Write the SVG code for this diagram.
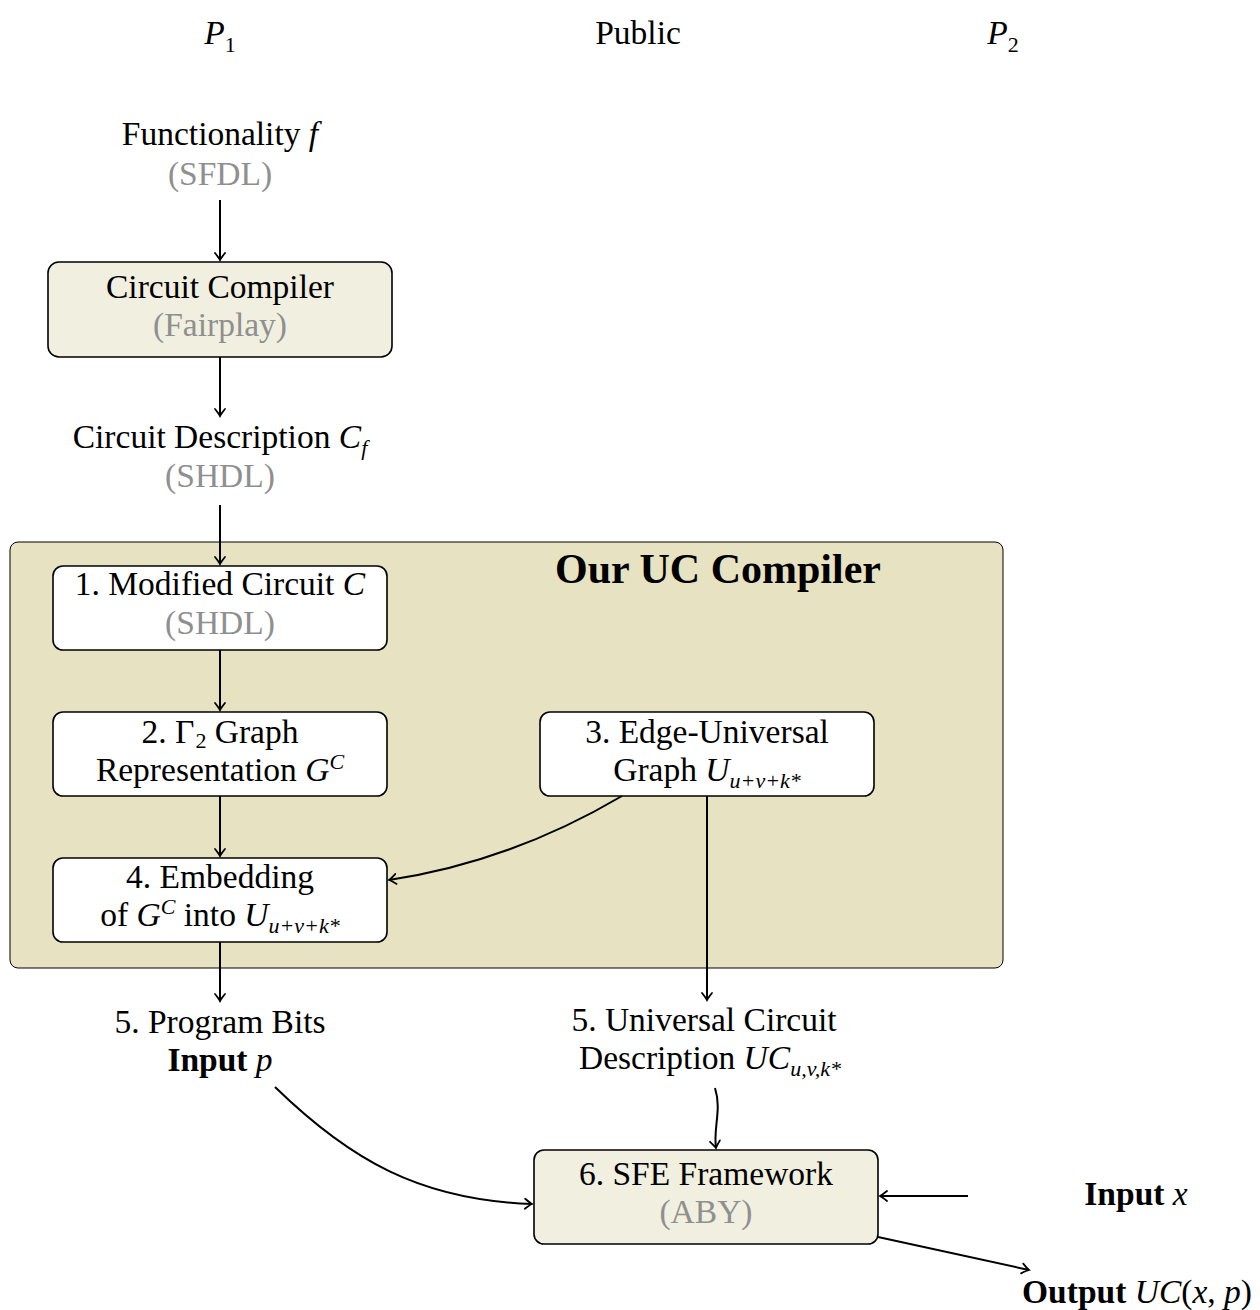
<svg xmlns="http://www.w3.org/2000/svg" width="1260" height="1310" viewBox="0 0 1260 1310">
  <style>
    text { font-family: "Liberation Serif", "DejaVu Serif", serif; font-size: 33.5px; fill: #000; }
    .c { text-anchor: middle; }
    .m { font-style: italic; }
    .b { font-weight: bold; }
    .g { fill: #8f8f8f; }
    .sub { font-size: 22px; }
    .box { stroke: #000; stroke-width: 1.6; }
    .light { fill: #f1efe0; }
    .white { fill: #ffffff; }
    .edge { fill: none; stroke: #000; stroke-width: 2; }
  </style>
  <defs>
    <marker id="arr" markerUnits="userSpaceOnUse" markerWidth="16" markerHeight="16" viewBox="-10 -8 12 16" refX="0" refY="0" orient="auto">
      <path d="M -7 -5 Q -2 -1 0 0 Q -2 1 -7 5" fill="none" stroke="#000" stroke-width="1.8" stroke-linecap="round"/>
    </marker>
  </defs>

  <!-- party headers -->
  <g id="headers">
    <text x="220" y="44" class="c"><tspan class="m">P</tspan><tspan class="sub" dy="8">1</tspan></text>
    <text x="638" y="44" class="c">Public</text>
    <text x="1003" y="44" class="c"><tspan class="m">P</tspan><tspan class="sub" dy="8">2</tspan></text>
  </g>

  <g id="functionality">
    <text x="220" y="145" class="c">Functionality <tspan class="m">f</tspan></text>
    <text x="220" y="185" class="c g">(SFDL)</text>
  </g>

  <g id="circuit-compiler">
    <rect x="48" y="262" width="344" height="95" rx="11" class="box light"/>
    <text x="220" y="298" class="c">Circuit Compiler</text>
    <text x="220" y="336" class="c g">(Fairplay)</text>
  </g>

  <g id="circuit-description">
    <text x="220" y="448" class="c">Circuit Description <tspan class="m">C</tspan><tspan class="sub m" dy="7">f</tspan></text>
    <text x="220" y="487" class="c g">(SHDL)</text>
  </g>

  <g id="uc-compiler">
    <rect x="10" y="542" width="993" height="426" rx="8" fill="#e7e2c1" stroke="#000" stroke-width="1"/>
    <text x="718" y="583" class="c b" style="font-size:42px">Our UC Compiler</text>
  </g>

  <g id="step1">
    <rect x="53" y="566" width="334" height="84" rx="10" class="box white"/>
    <text x="220" y="595" class="c">1.  Modified Circuit <tspan class="m">C</tspan></text>
    <text x="220" y="634" class="c g">(SHDL)</text>
  </g>

  <g id="step2">
    <rect x="53" y="712" width="334" height="84" rx="10" class="box white"/>
    <text x="220" y="743" class="c">2.  Γ<tspan class="sub" dx="1" dy="5">2</tspan><tspan dy="-5"> Graph</tspan></text>
    <text x="220" y="781" class="c">Representation <tspan class="m">G</tspan><tspan class="sub m" dy="-12">C</tspan></text>
  </g>

  <g id="step3">
    <rect x="540" y="712" width="334" height="84" rx="10" class="box white"/>
    <text x="707" y="743" class="c">3.  Edge-Universal</text>
    <text x="707" y="781" class="c">Graph <tspan class="m">U</tspan><tspan class="sub m" dy="7">u+v+k*</tspan></text>
  </g>

  <g id="step4">
    <rect x="53" y="858" width="334" height="84" rx="10" class="box white"/>
    <text x="220" y="888" class="c">4.  Embedding</text>
    <text x="220" y="926" class="c">of <tspan class="m">G</tspan><tspan class="sub m" dy="-12">C</tspan><tspan dy="12"> into </tspan><tspan class="m">U</tspan><tspan class="sub m" dy="7">u+v+k*</tspan></text>
  </g>

  <g id="program-bits">
    <text x="220" y="1033" class="c">5.  Program Bits</text>
    <text x="220" y="1071" class="c"><tspan class="b">Input</tspan> <tspan class="m">p</tspan></text>
  </g>

  <g id="uc-description">
    <text x="704" y="1031" class="c">5.  Universal Circuit</text>
    <text x="710" y="1069" class="c">Description <tspan class="m">UC</tspan><tspan class="sub m" dy="7">u,v,k*</tspan></text>
  </g>

  <g id="sfe-framework">
    <rect x="534" y="1150" width="344" height="94" rx="10" class="box light"/>
    <text x="706" y="1185" class="c">6.  SFE Framework</text>
    <text x="706" y="1223" class="c g">(ABY)</text>
  </g>

  <g id="input-x">
    <text x="1136" y="1205" class="c"><tspan class="b">Input</tspan> <tspan class="m">x</tspan></text>
  </g>

  <g id="output">
    <text x="1137" y="1303" class="c"><tspan class="b">Output</tspan>  <tspan class="m">UC</tspan>(<tspan class="m">x</tspan>, <tspan class="m">p</tspan>)</text>
  </g>

  <!-- connectors -->
  <g id="connectors">
    <path d="M 220 200 L 220 260" class="edge" marker-end="url(#arr)"/>
    <path d="M 220 357 L 220 416" class="edge" marker-end="url(#arr)"/>
    <path d="M 220 505 L 220 564" class="edge" marker-end="url(#arr)"/>
    <path d="M 220 650 L 220 710" class="edge" marker-end="url(#arr)"/>
    <path d="M 220 796 L 220 856" class="edge" marker-end="url(#arr)"/>
    <path d="M 622 796 Q 510 862 389 880" class="edge" marker-end="url(#arr)"/>
    <path d="M 707 796 L 707 1000" class="edge" marker-end="url(#arr)"/>
    <path d="M 220 942 L 220 1001" class="edge" marker-end="url(#arr)"/>
    <path d="M 275 1087 C 350 1160 420 1200 532 1204" class="edge" marker-end="url(#arr)"/>
    <path d="M 715 1088 C 722 1110 713 1128 716 1148" class="edge" marker-end="url(#arr)"/>
    <path d="M 968 1196 L 880 1196" class="edge" marker-end="url(#arr)"/>
    <path d="M 878 1237 L 1029 1270" class="edge" marker-end="url(#arr)"/>
  </g>
</svg>
